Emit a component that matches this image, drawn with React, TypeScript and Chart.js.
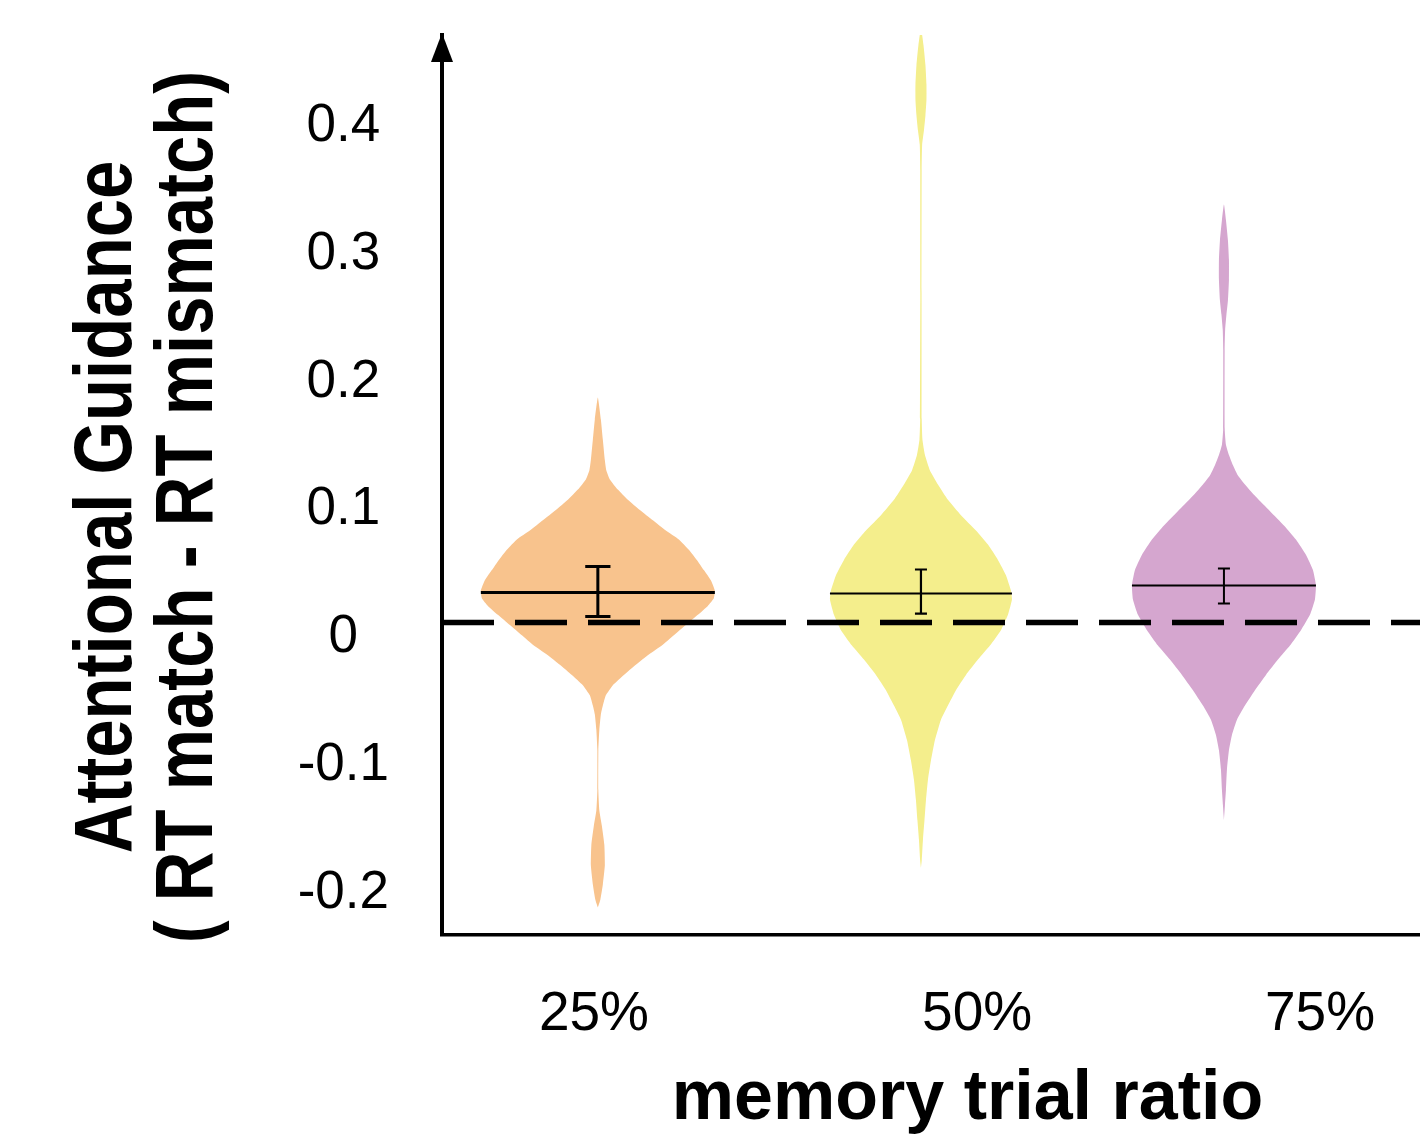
import React, { useEffect, useRef } from 'react';
import { Chart, registerables } from 'chart.js';

Chart.register(...registerables);

// ---------------- data ----------------
const categories = ['25%', '50%', '75%'];
const groupX = [0.519, 1.595, 2.604]; // violin centres on the x scale
const labelX = [0.506, 1.782, 2.924]; // category label positions on the x scale
const meanValues = [0.0235, 0.0227, 0.029];
const errUpper = [0.0438, 0.0415, 0.0423];
const errLower = [0.0047, 0.007, 0.0149];

// violin outlines: value levels and kernel density (half width) at each level
const violinY25 = [-0.223, -0.217, -0.205, -0.19, -0.174, -0.159, -0.147, -0.131, -0.1, -0.084, -0.072, -0.065, -0.057, -0.049, -0.041, -0.033, -0.025, -0.018, -0.01, -0.002, 0.006, 0.013, 0.019, 0.025, 0.033, 0.041, 0.049, 0.057, 0.065, 0.072, 0.08, 0.088, 0.096, 0.104, 0.112, 0.119, 0.127, 0.143, 0.159, 0.176];
const violinD25 = [0, 0.025, 0.05, 0.07, 0.065, 0.04, 0.015, 0.005, 0.005, 0.015, 0.03, 0.05, 0.08, 0.15, 0.26, 0.38, 0.51, 0.64, 0.76, 0.88, 1.0, 1.1, 1.16, 1.17, 1.13, 1.06, 0.99, 0.91, 0.81, 0.68, 0.55, 0.42, 0.3, 0.2, 0.12, 0.085, 0.07, 0.05, 0.03, 0];

const violinY50 = [-0.192, -0.186, -0.17, -0.155, -0.139, -0.123, -0.108, -0.092, -0.076, -0.065, -0.053, -0.041, -0.029, -0.018, -0.006, 0.006, 0.018, 0.025, 0.037, 0.049, 0.061, 0.072, 0.084, 0.096, 0.108, 0.119, 0.131, 0.143, 0.159, 0.252, 0.354, 0.374, 0.385, 0.397, 0.409, 0.421, 0.436, 0.452, 0.465];
const violinD50 = [0, 0.008, 0.02, 0.035, 0.05, 0.07, 0.1, 0.14, 0.2, 0.27, 0.35, 0.45, 0.57, 0.69, 0.8, 0.87, 0.91, 0.9, 0.85, 0.77, 0.67, 0.55, 0.4, 0.27, 0.17, 0.09, 0.04, 0.015, 0.008, 0.006, 0.007, 0.012, 0.03, 0.045, 0.055, 0.055, 0.045, 0.025, 0];

const violinY75 = [-0.155, -0.143, -0.131, -0.115, -0.1, -0.088, -0.076, -0.065, -0.053, -0.041, -0.029, -0.018, -0.006, 0.006, 0.018, 0.029, 0.041, 0.053, 0.065, 0.076, 0.084, 0.092, 0.1, 0.108, 0.115, 0.123, 0.131, 0.139, 0.151, 0.213, 0.229, 0.241, 0.252, 0.268, 0.284, 0.299, 0.315, 0.327];
const violinD75 = [0, 0.01, 0.02, 0.03, 0.05, 0.08, 0.13, 0.21, 0.31, 0.42, 0.54, 0.66, 0.77, 0.86, 0.91, 0.92, 0.89, 0.82, 0.72, 0.6, 0.5, 0.4, 0.3, 0.21, 0.14, 0.09, 0.05, 0.02, 0.008, 0.007, 0.012, 0.025, 0.04, 0.05, 0.05, 0.04, 0.02, 0];

const violinYs = [violinY25, violinY50, violinY75];
const violinDs = [violinD25, violinD50, violinD75];

const yTicks = [-0.2, -0.1, 0, 0.1, 0.2, 0.3, 0.4];
const yTitleLines = ['Attentional Guidance', '( RT match - RT mismatch)'];
const xTitle = 'memory trial ratio';

// ---------------- style ----------------
const FONT = '"Liberation Sans", Arial, Helvetica, sans-serif';
const colors = ['#F8C38D', '#F4EE8C', '#D5A6CF'];
const X_MIN = 0;
const X_MAX = 3.5;
const Y_MIN = -0.2445;
const Y_MAX = 0.4597;
const DENSITY_SCALE = 0.333;
const capHalf = [0.042, 0.02, 0.02];
const lineWidths = [3, 2.2, 2];

function buildDatasets(): any[] {
  const ds: any[] = [];
  groupX.forEach((cx, i) => {
    const c = capHalf[i];
    ds.push({
      data: [
        { x: cx - c, y: errUpper[i] }, { x: cx + c, y: errUpper[i] }, { x: NaN, y: NaN },
        { x: cx, y: errUpper[i] }, { x: cx, y: errLower[i] }, { x: NaN, y: NaN },
        { x: cx - c, y: errLower[i] }, { x: cx + c, y: errLower[i] },
      ],
      showLine: true, borderColor: '#000', borderWidth: lineWidths[i], pointRadius: 0,
      fill: false, order: 0, clip: false,
    });
  });
  groupX.forEach((cx, i) => {
    const half = Math.max(...violinDs[i]) * DENSITY_SCALE;
    ds.push({
      data: [{ x: cx - half, y: meanValues[i] }, { x: cx + half, y: meanValues[i] }],
      showLine: true, borderColor: '#000', borderWidth: lineWidths[i], pointRadius: 0,
      fill: false, order: 1,
    });
  });
  ds.push({
    data: [{ x: X_MIN, y: 0 }, { x: X_MAX, y: 0 }],
    showLine: true, borderColor: '#000', borderWidth: 5.5, borderDash: [52, 21], pointRadius: 0,
    fill: false, order: 2, borderCapStyle: 'butt',
  });
  groupX.forEach((cx, i) => {
    const ys = violinYs[i];
    const dsx = violinDs[i];
    const pts: { x: number; y: number }[] = [];
    for (let k = 0; k < ys.length; k++) pts.push({ x: cx + dsx[k] * DENSITY_SCALE, y: ys[k] });
    for (let k = ys.length - 2; k >= 0; k--) pts.push({ x: cx - dsx[k] * DENSITY_SCALE, y: ys[k] });
    ds.push({
      data: pts, showLine: true, borderWidth: 0, borderColor: colors[i], backgroundColor: colors[i],
      pointRadius: 0, fill: 'shape', tension: 0.15, order: 3, clip: false,
    });
  });
  return ds;
}

const arrowPlugin = {
  id: 'axisArrow',
  afterDraw(chart: any) {
    const { ctx, chartArea } = chart;
    const x = chartArea.left;
    ctx.save();
    ctx.fillStyle = '#000';
    ctx.beginPath();
    ctx.moveTo(x, chartArea.top - 2);
    ctx.lineTo(x - 11, chartArea.top + 27);
    ctx.lineTo(x + 11, chartArea.top + 27);
    ctx.closePath();
    ctx.fill();
    ctx.restore();
  },
};

const yTitlePlugin = {
  id: 'yTitleTwoLines',
  afterDraw(chart: any) {
    const { ctx } = chart;
    const baselines = [131, 212];
    const centerY = 507;
    ctx.save();
    ctx.fillStyle = '#000';
    ctx.font = `bold 82px ${FONT}`;
    ctx.textAlign = 'center';
    ctx.textBaseline = 'alphabetic';
    yTitleLines.forEach((t, i) => {
      ctx.save();
      ctx.translate(baselines[i], centerY);
      ctx.rotate(-Math.PI / 2);
      ctx.scale(0.84, 1);
      ctx.fillText(t, 0, 0);
      ctx.restore();
    });
    ctx.restore();
  },
};

export default function App() {
  const ref = useRef<HTMLCanvasElement | null>(null);
  useEffect(() => {
    if (!ref.current) return;
    const chart = new Chart(ref.current, {
      type: 'scatter',
      data: { datasets: buildDatasets() },
      options: {
        animation: false,
        responsive: false,
        devicePixelRatio: 1,
        layout: { padding: { top: 35, left: 0, right: 0, bottom: 0 } },
        plugins: { legend: { display: false }, tooltip: { enabled: false } },
        scales: {
          x: {
            type: 'linear', min: X_MIN, max: X_MAX,
            grid: { display: false, drawTicks: false },
            border: { display: true, color: '#000', width: 3.5 },
            afterBuildTicks: (s: any) => { s.ticks = labelX.map((v) => ({ value: v })); },
            afterFit: (s: any) => { s.height = 207; s.paddingLeft = 0; s.paddingRight = 0; },
            ticks: {
              autoSkip: false, maxRotation: 0, padding: 47, color: '#000',
              font: { family: FONT, size: 55 },
              callback: (_v: any, idx: number) => categories[idx],
            },
            title: {
              display: true, text: xTitle, color: '#000', padding: 0,
              font: { family: FONT, size: 70, weight: 'bold' },
            },
          },
          y: {
            type: 'linear', min: Y_MIN, max: Y_MAX,
            grid: { display: false, drawTicks: false },
            border: { display: true, color: '#000', width: 4 },
            afterBuildTicks: (s: any) => { s.ticks = yTicks.map((v) => ({ value: v })); },
            afterFit: (s: any) => { s.width = 442; s.paddingTop = 0; s.paddingBottom = 0; },
            ticks: {
              autoSkip: false, padding: 53, crossAlign: 'center', labelOffset: 15, color: '#000',
              font: { family: FONT, size: 53 },
              callback: (v: any) => (Number(v) === 0 ? '0' : Number(v).toFixed(1)),
            },
          },
        },
      } as any,
      plugins: [arrowPlugin, yTitlePlugin],
    });
    return () => chart.destroy();
  }, []);
  return (
    <div style={{ position: 'absolute', left: 0, top: 0, width: 1420, height: 1142, overflow: 'hidden', background: '#fff' }}>
      <canvas ref={ref} width={1493} height={1142} style={{ display: 'block' }} />
    </div>
  );
}
